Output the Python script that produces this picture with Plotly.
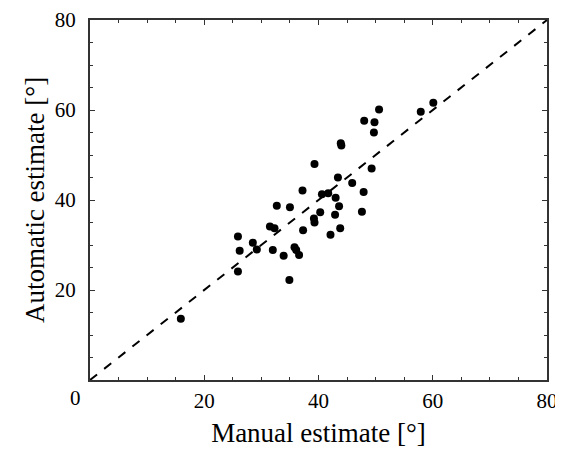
import plotly.graph_objects as go

manual = [15.9, 25.9, 26.2, 25.9, 28.5, 29.2, 31.5, 32.3, 32.0, 32.7, 33.9, 34.9, 35.0,
          35.8, 36.1, 36.6, 37.2, 37.3, 39.2, 39.3, 39.3, 40.3, 40.6, 41.7, 42.1, 42.9,
          43.0, 43.4, 43.6, 43.8, 43.9, 44.0, 45.9, 47.6, 47.9, 48.0, 49.3, 49.7, 49.8,
          50.6, 57.9, 60.1]
automatic = [13.6, 31.9, 28.7, 24.1, 30.5, 29.0, 34.1, 33.7, 28.9, 38.7, 27.6, 22.2, 38.4,
             29.5, 28.9, 27.8, 42.1, 33.3, 35.9, 35.0, 48.0, 37.3, 41.3, 41.5, 32.3, 36.7,
             40.5, 45.0, 38.6, 33.7, 52.6, 52.1, 43.8, 37.4, 41.8, 57.6, 47.0, 55.0, 57.3,
             60.1, 59.6, 61.6]
identity = [0, 80]
tick_vals = [20, 40, 60, 80]

font = "Liberation Serif"

fig = go.Figure()
fig.add_trace(go.Scatter(x=identity, y=identity, mode="lines",
                         line=dict(color="black", width=2, dash="dash"),
                         hoverinfo="skip", showlegend=False))
fig.add_trace(go.Scatter(x=manual, y=automatic, mode="markers",
                         marker=dict(color="black", size=8),
                         showlegend=False))

axis_common = dict(range=[0, 80], showgrid=False, zeroline=False, automargin=False,
                   showline=True, linecolor="#333333", linewidth=2, mirror="ticks",
                   ticks="inside", ticklen=5, tickwidth=1, tickcolor="#333333",
                   tickvals=tick_vals,
                   minor=dict(ticks="inside", ticklen=3, tickwidth=1, tickcolor="#333333", dtick=5, tick0=0),
                   tickfont=dict(family=font, size=21, color="black"))

fig.update_xaxes(**axis_common, ticklabelstandoff=1,
                 title=dict(text="Manual estimate [°]", font=dict(family=font, size=27, color="black"), standoff=11))
fig.update_yaxes(**axis_common, ticklabelstandoff=8,
                 title=dict(text="Automatic estimate [°]", font=dict(family=font, size=27, color="black"), standoff=2))

fig.add_annotation(x=0, y=0, xref="x", yref="y", text="0", showarrow=False,
                   xanchor="right", yanchor="top", xshift=-7, yshift=-4,
                   font=dict(family=font, size=21, color="black"))

# page body has an 8px margin, so the figure is sized to fill the rest of the window
fig.update_layout(width=555, height=441, plot_bgcolor="white", paper_bgcolor="white",
                  margin=dict(l=82, r=16, t=12, b=69))

fig.write_html("out.html")
